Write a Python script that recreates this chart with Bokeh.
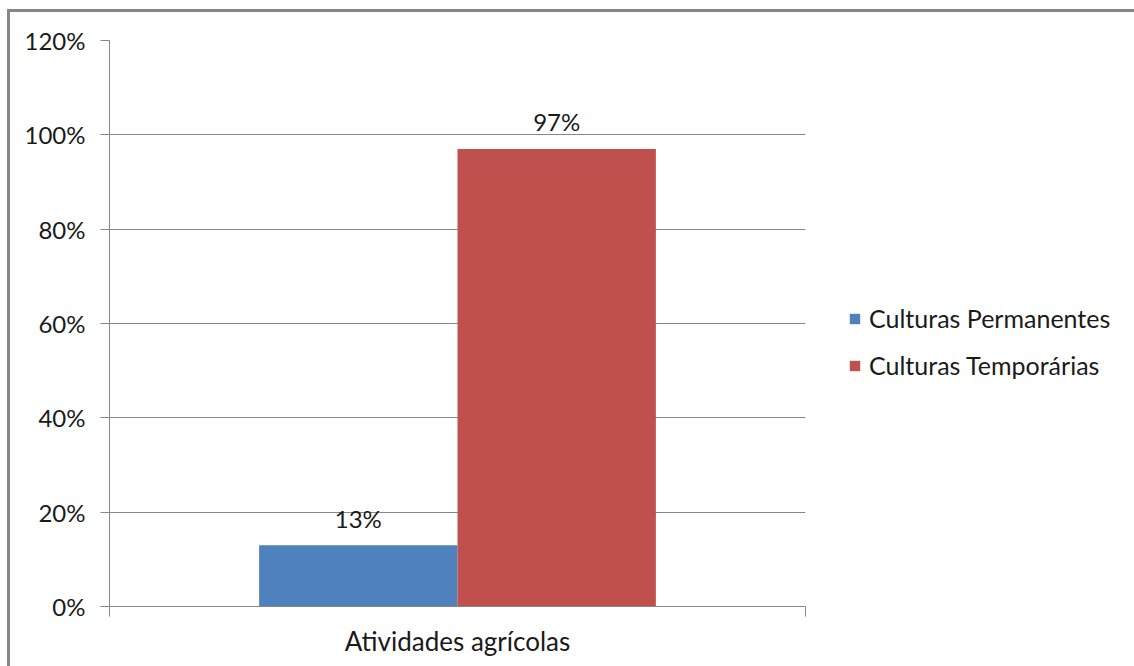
from bokeh.plotting import figure
from bokeh.layouts import row
from bokeh.models import (ColumnDataSource, FactorRange, Range1d, LinearAxis, CategoricalAxis,
                          FixedTicker, NumeralTickFormatter, LabelSet, Legend, LegendItem)
from bokeh.core.properties import value
from bokeh.transform import dodge
from bokeh.embed import file_html
from bokeh.resources import INLINE

categories = ["Atividades agrícolas"]
series = ["Culturas Permanentes", "Culturas Temporárias"]
values_permanentes = [0.13]
values_temporarias = [0.97]
value_labels_permanentes = ["13%"]
value_labels_temporarias = ["97%"]
y_ticks = [0, 0.2, 0.4, 0.6, 0.8, 1.0, 1.2]

colors = ["#4F81BD", "#C0504D"]
FONT = "Lato"
GRID = "#878787"
TXT = "#1a1a1a"

# chart figure, placed at (10, 12) inside a 3px border starting at (7, 9)
p = figure(width=800, height=654, x_range=FactorRange(*categories), y_range=Range1d(0, 1.2),
           output_backend="svg", toolbar_location=None, x_axis_location=None, y_axis_location=None,
           min_border_left=99, min_border_right=5, min_border_top=28, min_border_bottom=60)
p.outline_line_color = None
p.background_fill_color = "white"
p.border_fill_color = "white"

yax = LinearAxis(ticker=FixedTicker(ticks=y_ticks), formatter=NumeralTickFormatter(format="0%"))
yax.axis_line_color = GRID
yax.major_tick_line_color = GRID
yax.major_tick_out = 9
yax.major_tick_in = 0
yax.minor_tick_line_color = None
yax.major_label_text_font = FONT
yax.major_label_text_font_size = "24px"
yax.major_label_text_color = TXT
yax.major_label_standoff = 15
p.add_layout(yax, "left")

# x edge ticks (category boundaries, synthetic coordinates 0 and 1)
eax = LinearAxis(ticker=FixedTicker(ticks=[0, 1]))
eax.axis_line_color = GRID
eax.major_tick_line_color = GRID
eax.major_tick_out = 10
eax.major_tick_in = 0
eax.minor_tick_line_color = None
eax.major_label_text_font_size = "0px"
eax.major_label_standoff = 0
p.add_layout(eax, "below")

cax = CategoricalAxis()
cax.axis_line_color = None
cax.major_tick_line_color = None
cax.major_label_text_font = FONT
cax.major_label_text_font_size = "26px"
cax.major_label_text_color = TXT
cax.major_label_standoff = 2
p.add_layout(cax, "below")

p.xgrid.visible = False
p.ygrid.grid_line_color = GRID
p.ygrid.grid_line_width = 1
p.ygrid.ticker = FixedTicker(ticks=y_ticks)

src1 = ColumnDataSource(dict(x=categories, y=values_permanentes, t=value_labels_permanentes))
src2 = ColumnDataSource(dict(x=categories, y=values_temporarias, t=value_labels_temporarias))

off = 0.1425
w = 0.285
p.vbar(x=dodge("x", -off, range=p.x_range), top="y", width=w, source=src1,
       fill_color=colors[0], line_color=None)
p.vbar(x=dodge("x", off, range=p.x_range), top="y", width=w, source=src2,
       fill_color=colors[1], line_color=None)

for src, o in ((src1, -off), (src2, off)):
    lab = LabelSet(x=dodge("x", o, range=p.x_range), y="y", text="t", source=src,
                   text_align="center", text_baseline="middle", y_offset=27,
                   text_font=value(FONT), text_font_size=value("24px"), text_color=TXT)
    p.add_layout(lab)

# legend panel figure (its frame is aligned with the chart's frame by the row layout)
q = figure(width=324, height=654, x_range=Range1d(0, 1), y_range=Range1d(0, 1),
           output_backend="svg", toolbar_location=None, x_axis_location=None, y_axis_location=None,
           min_border=0, min_border_left=0, min_border_right=0, min_border_top=0, min_border_bottom=0)
q.outline_line_color = None
q.xgrid.visible = False
q.ygrid.visible = False
q.background_fill_color = "white"
q.border_fill_color = "white"
# legend proxy swatches, kept outside the visible range of this panel
proxy = ColumnDataSource(dict(x=[-5], y=[-5]))
lr1 = q.rect(x="x", y="y", width=0.1, height=0.1, source=proxy, fill_color=colors[0], line_color=None)
lr2 = q.rect(x="x", y="y", width=0.1, height=0.1, source=proxy, fill_color=colors[1], line_color=None)

legend = Legend(items=[LegendItem(label=series[0], renderers=[lr1]),
                       LegendItem(label=series[1], renderers=[lr2])],
                location=(38, 226), orientation="vertical")
legend.border_line_color = None
legend.background_fill_alpha = 0
legend.padding = 0
legend.margin = 0
legend.glyph_width = 13
legend.glyph_height = 13
legend.label_height = 20
legend.spacing = 17
legend.label_standoff = 8
legend.label_text_font = FONT
legend.label_text_font_size = "25px"
legend.label_text_color = TXT
q.add_layout(legend, "center")

lay = row(p, q, spacing=0)
lay.margin = (9, 0, 0, 7)
lay.styles = {"border-left": "3px solid #878787", "border-top": "3px solid #878787"}

open("out.html", "w").write(file_html(lay, INLINE))
